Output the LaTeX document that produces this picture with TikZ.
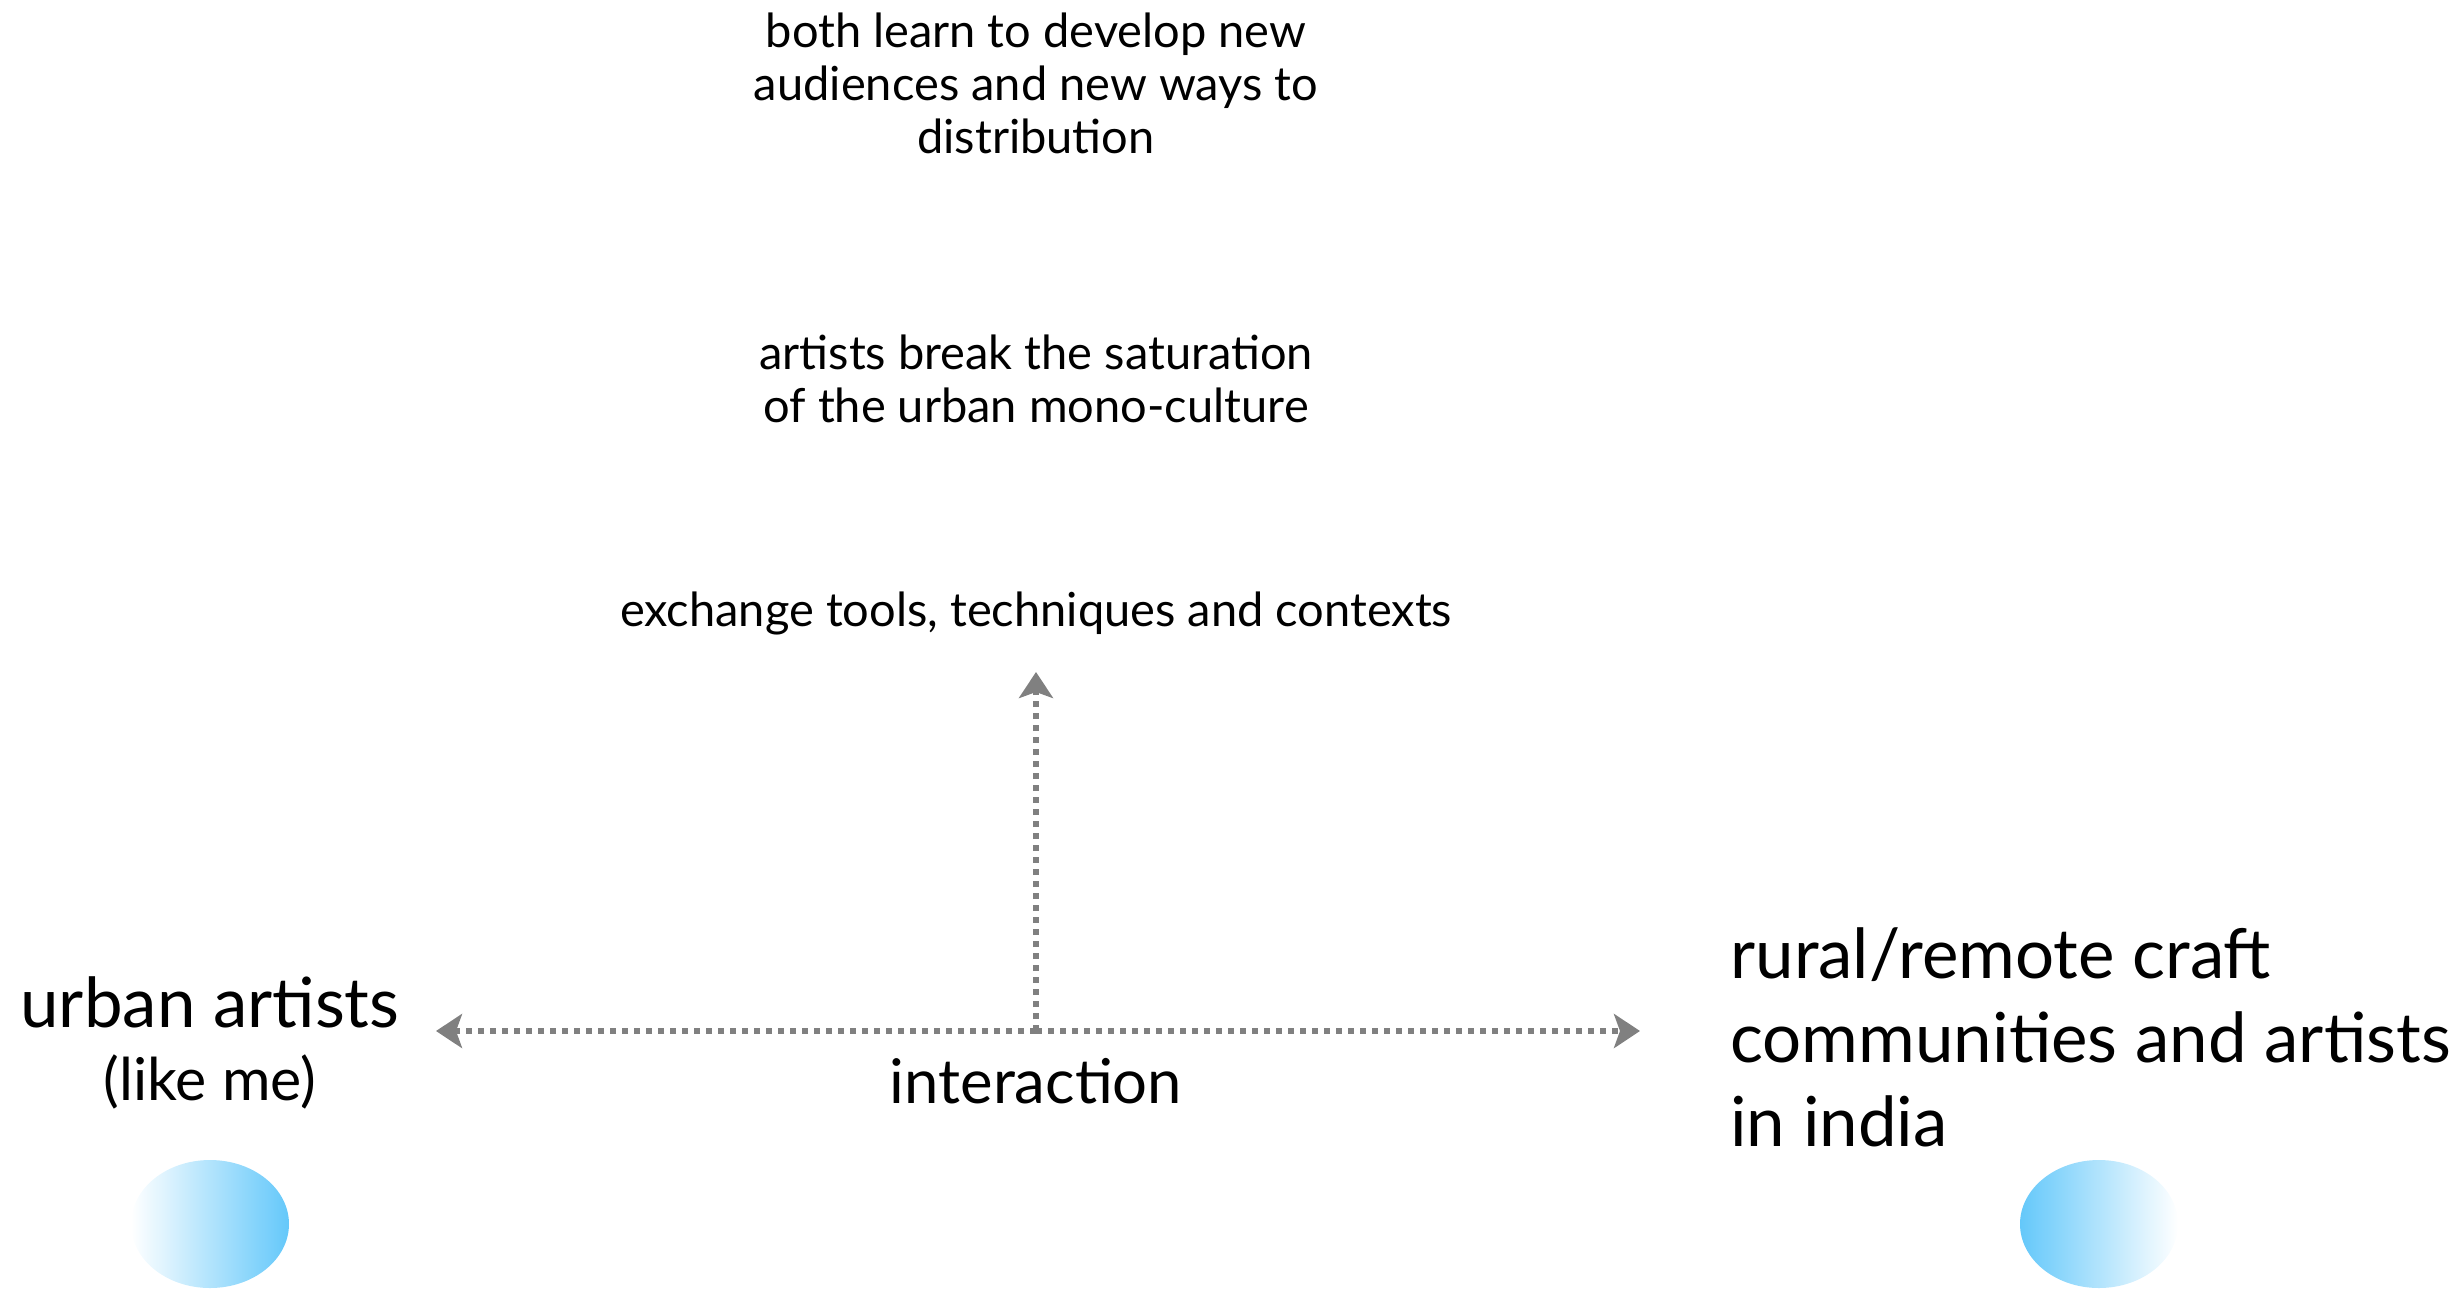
\documentclass[tikz,border=0pt]{standalone}
\usepackage{fontspec}
\setmainfont{Lato}
\usetikzlibrary{arrows.meta,shapes.geometric}
\definecolor{arrowgray}{RGB}{128,128,128}
\definecolor{skyblue}{RGB}{100,200,250}
\begin{document}
\begin{tikzpicture}[x=0.5pt,y=-0.5pt,
  dotline/.style={draw=arrowgray,line width=3.1pt,dash pattern=on 2.8pt off 3.2pt,
    -{Stealth[length=13pt,width=17pt,inset=3pt,fill=arrowgray]}},
  small/.style={font=\fontsize{23.5}{26.3}\selectfont,align=center,inner sep=0pt,anchor=base},
  big/.style={font=\fontsize{34.5}{42}\selectfont,inner sep=0pt,anchor=base},
  mid/.style={inner sep=0pt,anchor=base},
  blob/.style={ellipse,minimum width=79pt,minimum height=64pt,inner sep=0pt}]
\useasboundingbox (0,0) rectangle (2458,1292);
% arrows
\coordinate (junction) at (1036,1031);
\coordinate (leftTip) at (436,1031);
\coordinate (rightTip) at (1640,1031);
\coordinate (topTip) at (1036,672);
\draw[dotline] (junction) -- (leftTip);
\draw[dotline] (junction) -- (rightTip);
\draw[dotline] (junction) -- (topTip);
% ellipses
\node[blob,left color=white,right color=skyblue] (urbanBlob) at (210,1224) {};
\node[blob,left color=skyblue,right color=white] (ruralBlob) at (2099,1224) {};
% texts (base anchor = last line)
\node[small] (learn) at (1036,153) {both learn to develop new\\audiences and new ways to\\distribution};
\node[small] (saturation) at (1036,422) {artists break the saturation\\of the urban mono-culture};
\node[small] (exchange) at (1036,626) {exchange tools, techniques and contexts};
\node[mid,font=\fontsize{30.8}{34}\selectfont] (interaction) at (1036,1103) {interaction};
\node[big] (urban) at (210,1027) {urban artists};
\node[mid,font=\fontsize{29.5}{34}\selectfont] (likeme) at (210,1100) {(like me)};
\node[big,align=left,anchor=base west] (rural) at (1730,1146) {rural/remote craft\\communities and artists\\in india};
\end{tikzpicture}
\end{document}
